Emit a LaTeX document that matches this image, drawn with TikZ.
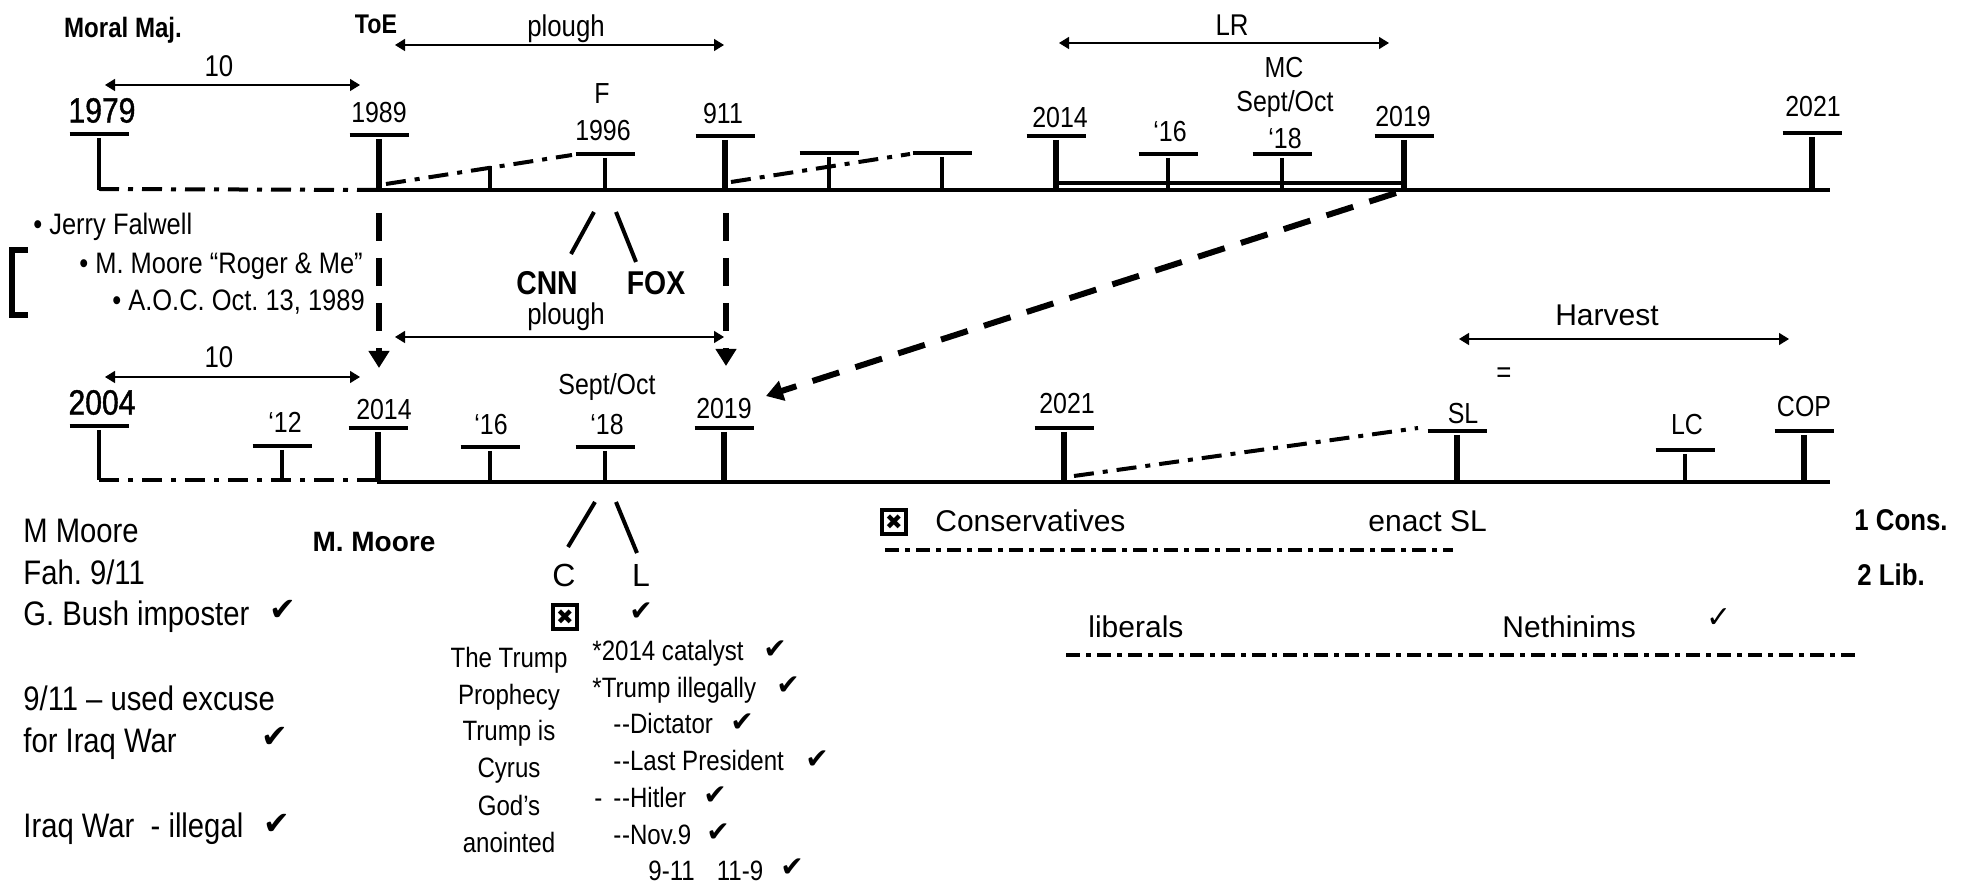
\documentclass[tikz,border=0pt]{standalone}
\usepackage{fontspec}
\setmainfont{Liberation Sans}[FakeStretch=0.86]
\newfontfamily\widefont{Liberation Sans}
\newfontfamily\semib{Liberation Sans}[FakeStretch=0.86,FakeBold=1.2]
\newfontfamily\symfont{DejaVu Sans}
\usetikzlibrary{arrows.meta}
\frenchspacing
% text helpers: #1 font prefix, #2 name, #3 size, #4 x, #5 y (cap centre), #6 text
\newcommand\tx[6][]{\node[anchor=base,inner sep=0pt,font={#1\fontsize{#3}{#3}\selectfont}] (#2) at (#4,{#5+0.716*#3}) {#6};}
\newcommand\txw[6][]{\node[anchor=base west,inner sep=0pt,font={#1\fontsize{#3}{#3}\selectfont}] (#2) at (#4,{#5+0.716*#3}) {#6};}
% tick: name, x, bar y, line y, vertical style
\newcommand\tk[5]{\coordinate (#1) at (#2,#3);
  \draw[barline] ({#2-29.5},#3) -- ({#2+29.5},#3);
  \draw[#5] (#2,{#3+4}) -- (#2,#4);}
\newcommand\chk[4]{\node[inner sep=0pt,font={\symfont\fontsize{#4}{#4}\selectfont}] (#1) at (#2,#3) {✔};}
\newcommand\bxx[3]{\node[draw,line width=1.7pt,minimum width=12pt,minimum height=12pt,inner sep=0pt,font={\symfont\fontsize{10.5}{10.5}\selectfont}] (#1) at (#2,#3) {✖};}
\newcommand\dd{-\kern0.3pt-}
\begin{document}
\begin{tikzpicture}[x=0.5pt,y=-0.5pt,
  mainline/.style={line width=2.3pt},
  barline/.style={line width=2.2pt},
  thickv/.style={line width=3.3pt},
  medv/.style={line width=2.6pt},
  thinv/.style={line width=2pt},
  dbl/.style={line width=1.7pt},
  dashdot/.style={line width=2pt,dash pattern=on 10pt off 4.5pt on 2.5pt off 4.5pt},
  dashdotb/.style={line width=2pt,dash pattern=on 7pt off 3pt on 2.5pt off 3pt},
  dimarrow/.style={line width=0.7pt,{Triangle[width=6pt,length=5pt]}-{Triangle[width=6pt,length=5pt]}},
  bigdash/.style={line width=3pt,dash pattern=on 14pt off 8.5pt,-{Triangle[width=10pt,length=8.5pt]}},
  slash/.style={line width=2pt}]
\path[fill=white,use as bounding box] (0,0) rectangle (1961,887);

% ---------------- top timeline ----------------
\tk{t1979}{99}{134}{190}{thinv}
\tk{t1989}{379}{135}{190}{thickv}
\coordinate (tsmall) at (490,166);
\draw[thinv] (tsmall) -- (490,190);
\tk{t1996}{605}{154}{190}{thinv}
\tk{t911}{725}{136}{190}{thickv}
\tk{tua}{829}{153}{190}{thinv}
\tk{tub}{942}{153}{190}{thinv}
\tk{t2014}{1056}{136}{190}{thickv}
\tk{t16}{1168}{154}{190}{thinv}
\tk{t18}{1282}{154}{190}{thinv}
\tk{t2019}{1404}{136}{190}{thickv}
\tk{t2021}{1812}{133}{190}{thickv}
\coordinate (tls) at (377,190); \coordinate (tle) at (1830,190);
\draw[mainline] (tls) -- (tle);
\coordinate (tda) at (99,189);
\draw[dashdot] (tda) -- (tls);
\coordinate (tdb1) at (386,184); \coordinate (tdb2) at (572,155);
\draw[dashdot] (tdb1) -- (tdb2);
\coordinate (tdc1) at (731,182); \coordinate (tdc2) at (910,154);
\draw[dashdot] (tdc1) -- (tdc2);
\coordinate (dl1) at (1056,183); \coordinate (dl2) at (1404,183);
\draw[dbl] (dl1) -- (dl2);

\tx[\bfseries]{moral}{14}{123}{27}{Moral Maj.}
\tx[\bfseries]{toe}{13.5}{376}{24}{ToE}
\tx{ploughA}{15}{566}{26}{plough}
\coordinate (pa1) at (395,45); \coordinate (pa2) at (724,45);
\draw[dimarrow] (pa1) -- (pa2);
\tx{tenA}{15}{219}{66}{10}
\coordinate (ta1) at (105,85); \coordinate (ta2) at (360,85);
\draw[dimarrow] (ta1) -- (ta2);
\tx{lr}{15}{1232}{25}{LR}
\coordinate (lr1) at (1059,43); \coordinate (lr2) at (1389,43);
\draw[dimarrow] (lr1) -- (lr2);

\tx[\semib]{y1979}{17.5}{102}{110}{1979}
\tx{y1989}{14.5}{379}{112}{1989}
\tx{lF}{14.5}{602}{93}{F}
\tx{y1996}{14.5}{603}{130}{1996}
\tx{y911}{14.5}{723}{113}{911}
\tx{y2014}{14.5}{1060}{117}{2014}
\tx{y16}{14.5}{1170}{131}{‘16}
\tx{lMC}{14.5}{1284}{67}{MC}
\tx{lSO}{14.5}{1285}{101}{Sept/Oct}
\tx{y18}{14.5}{1285}{138}{‘18}
\tx{y2019}{14.5}{1403}{116}{2019}
\tx{y2021}{14.5}{1813}{106}{2021}

% ---------------- middle ----------------
\coordinate (va1) at (379,213); \coordinate (va2) at (379,368);
\draw[bigdash] (va1) -- (va2);
\coordinate (vb1) at (726,213); \coordinate (vb2) at (726,366);
\draw[bigdash] (vb1) -- (vb2);
\coordinate (dg1) at (1396,193); \coordinate (dg2) at (766,396);
\draw[bigdash] (dg1) -- (dg2);

\coordinate (s1a) at (594,212); \coordinate (s1b) at (571,254);
\draw[slash] (s1a) -- (s1b);
\coordinate (s2a) at (616,212); \coordinate (s2b) at (636,262);
\draw[slash] (s2a) -- (s2b);
\tx[\bfseries]{cnn}{16.5}{547}{283}{CNN}
\tx[\bfseries]{fox}{16.5}{656}{283}{FOX}

\txw{bl1}{14.8}{33}{224}{•\ Jerry Falwell}
\txw{bl2}{14.8}{79}{263}{•\ M. Moore “Roger \& Me”}
\txw{bl3}{14.8}{112}{300}{•\ A.O.C. Oct. 13, 1989}
\coordinate (br1) at (28,250); \coordinate (br2) at (28,315);
\draw[line width=3pt] (br1) -- (12,250) -- (12,315) -- (br2);

\tx{ploughB}{15}{566}{314}{plough}
\coordinate (pb1) at (395,337); \coordinate (pb2) at (724,337);
\draw[dimarrow] (pb1) -- (pb2);
\tx{tenB}{15}{219}{357}{10}
\coordinate (tb1) at (105,377); \coordinate (tb2) at (360,377);
\draw[dimarrow] (tb1) -- (tb2);
\tx[\widefont]{harvest}{15}{1607}{315}{Harvest}
\coordinate (hv1) at (1459,339); \coordinate (hv2) at (1789,339);
\draw[dimarrow] (hv1) -- (hv2);
\tx{eq}{15}{1504}{372}{=}

% ---------------- lower timeline ----------------
\tk{b2004}{99}{426}{480}{thinv}
\tk{b12}{282}{446}{480}{thinv}
\tk{b2014}{378}{428}{482}{thickv}
\tk{b16}{490}{447}{482}{thinv}
\tk{b18}{605}{447}{482}{thinv}
\tk{b2019}{724}{428}{482}{thickv}
\tk{b2021}{1064}{428}{482}{medv}
\tk{bSL}{1457}{431}{482}{thickv}
\tk{bLC}{1685}{450}{482}{thinv}
\tk{bCOP}{1804}{431}{482}{thickv}
\coordinate (bls) at (377,482); \coordinate (ble) at (1830,482);
\draw[mainline] (bls) -- (ble);
\coordinate (bda) at (99,480);
\draw[dashdot] (bda) -- (377,480);
\coordinate (bdb1) at (1074,476); \coordinate (bdb2) at (1418,428);
\draw[dashdot] (bdb1) -- (bdb2);

\tx[\semib]{y2004}{17.5}{102}{402}{2004}
\tx{z12}{14.5}{285}{422}{‘12}
\tx{z2014}{14.5}{384}{409}{2014}
\tx{z16}{14.5}{491}{424}{‘16}
\tx{zSO}{14.5}{607}{384}{Sept/Oct}
\tx{z18}{14.5}{607}{424}{‘18}
\tx{z2019}{14.5}{724}{408}{2019}
\tx{z2021}{14.5}{1067}{403}{2021}
\tx{zSL}{14.5}{1463}{413}{SL}
\tx{zLC}{14.5}{1687}{424}{LC}
\tx{zCOP}{14.5}{1804}{406}{COP}

% ---------------- bottom ----------------
\txw{mm1}{17}{23}{530}{M Moore}
\txw{mm2}{17}{23}{572}{Fah. 9/11}
\txw{mm3}{17}{23}{613}{G. Bush imposter}
\txw{mm4}{17}{23}{698}{9/11 – used excuse}
\txw{mm5}{17}{23}{740}{for Iraq War}
\txw{mm6}{17}{23}{825}{Iraq War~~- illegal}
\chk{ck1}{283}{610}{16}
\chk{ck2}{275}{737}{16}
\chk{ck3}{277}{824}{16}
\tx[\widefont\bfseries]{mmoore}{14}{374}{541}{M. Moore}

\coordinate (s3a) at (595,502); \coordinate (s3b) at (568,547);
\draw[slash] (s3a) -- (s3b);
\coordinate (s4a) at (616,502); \coordinate (s4b) at (637,553);
\draw[slash] (s4a) -- (s4b);
\tx[\widefont]{lC}{16}{564}{575}{C}
\tx[\widefont]{lL}{16}{641}{575}{L}
\bxx{bx1}{565}{617}
\chk{ck4}{641}{612}{14}

\tx{tp1}{14}{509}{657}{The Trump}
\tx{tp2}{14}{509}{694}{Prophecy}
\tx{tp3}{14}{509}{730}{Trump is}
\tx{tp4}{14}{509}{767}{Cyrus}
\tx{tp5}{14}{509}{805}{God’s}
\tx{tp6}{14}{509}{842}{anointed}

\txw{rc1}{14}{592}{650}{*2014 catalyst}
\txw{rc2}{14}{592}{687}{*Trump illegally}
\txw{rc3}{14}{613}{723}{\dd Dictator}
\txw{rc4}{14}{613}{760}{\dd Last President}
\txw{rc5a}{14}{594}{797}{-}
\txw{rc5}{14}{613}{797}{\dd Hitler}
\txw{rc6}{14}{613}{834}{\dd Nov.9}
\txw{rc7}{14}{648}{870}{9-11\hspace{11pt}11-9}
\chk{ck5}{775}{650}{14}
\chk{ck6}{788}{686}{14}
\chk{ck7}{742}{723}{14}
\chk{ck8}{817}{760}{14}
\chk{ck9}{715}{796}{14}
\chk{ck10}{718}{833}{14}
\chk{ck11}{792}{868}{14}

\bxx{bx2}{894}{522}
\txw[\widefont]{cons}{15}{935}{521}{Conservatives}
\txw[\widefont]{enact}{15}{1368}{521}{enact SL}
\coordinate (cd1) at (885,550); \coordinate (cd2) at (1453,550);
\draw[dashdotb] (cd1) -- (cd2);
\txw[\bfseries]{one}{15}{1854}{520}{1 Cons.}
\txw[\bfseries]{two}{15}{1857}{575}{2 Lib.}
\txw[\widefont]{lib}{15}{1088}{627}{liberals}
\txw[\widefont]{neth}{15}{1502}{627}{Nethinims}
\node[inner sep=0pt,font={\symfont\fontsize{15}{15}\selectfont}] (ck12) at (1719,618) {✓};
\coordinate (ld1) at (1066,655); \coordinate (ld2) at (1857,655);
\draw[dashdotb] (ld1) -- (ld2);
\end{tikzpicture}
\end{document}
